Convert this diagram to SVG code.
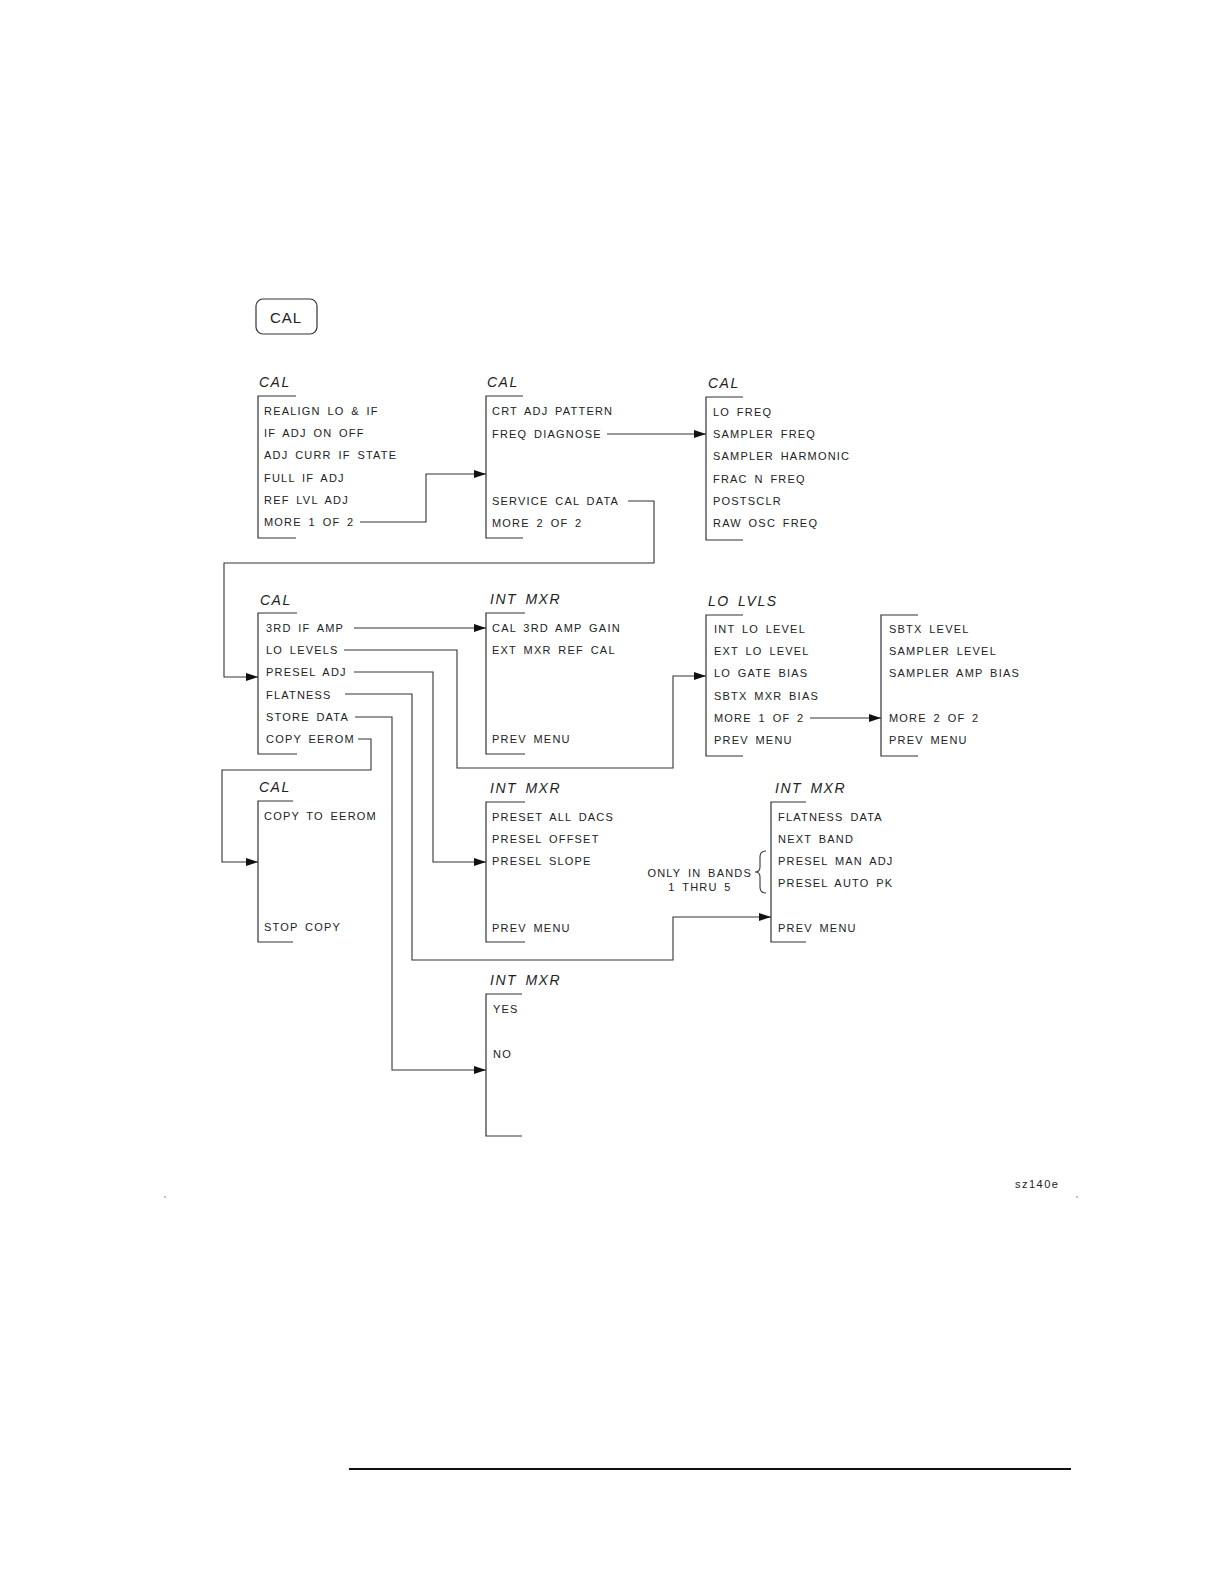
<svg xmlns="http://www.w3.org/2000/svg" width="1224" height="1582" viewBox="0 0 1224 1582">
<defs>
<style>
.t{font-family:"Liberation Sans",Arial,sans-serif;font-size:11px;letter-spacing:1.2px;word-spacing:2.5px;fill:#222}
.h{font-family:"Liberation Sans",Arial,sans-serif;font-size:14px;font-style:italic;letter-spacing:1.5px;word-spacing:3px;fill:#222}
.b{fill:none;stroke:#333;stroke-width:1.2}
.c{fill:none;stroke:#333;stroke-width:1.1}
</style>
<marker id="a" viewBox="0 0 12 8" refX="12" refY="4" markerWidth="12" markerHeight="8" markerUnits="userSpaceOnUse" orient="auto"><path d="M0,0L12,4L0,8z" fill="#111"/></marker>
</defs>
<rect width="1224" height="1582" fill="#fff"/>
<g id="calkey"><rect x="256" y="299" width="61" height="35" rx="7" class="b"/><text x="286" y="323" text-anchor="middle" font-family="Liberation Sans,Arial,sans-serif" font-size="15" letter-spacing="1" fill="#222">CAL</text></g>

<g id="m1"><text class="h" x="259" y="387">CAL</text><path class="b" d="M296,396H258V538H296"/>
<text class="t" x="264" y="415">REALIGN LO &amp; IF</text><text class="t" x="264" y="437">IF ADJ ON OFF</text><text class="t" x="264" y="459">ADJ CURR IF STATE</text><text class="t" x="264" y="482">FULL IF ADJ</text><text class="t" x="264" y="504">REF LVL ADJ</text><text class="t" x="264" y="526">MORE 1 OF 2</text></g>
<g id="m2"><text class="h" x="487" y="387">CAL</text><path class="b" d="M523,396H486V538H523"/>
<text class="t" x="492" y="415">CRT ADJ PATTERN</text><text class="t" x="492" y="438">FREQ DIAGNOSE</text><text class="t" x="492" y="505">SERVICE CAL DATA</text><text class="t" x="492" y="527">MORE 2 OF 2</text></g>
<g id="m3"><text class="h" x="708" y="388">CAL</text><path class="b" d="M743,397H706V540H743"/>
<text class="t" x="713" y="416">LO FREQ</text><text class="t" x="713" y="438">SAMPLER FREQ</text><text class="t" x="713" y="460">SAMPLER HARMONIC</text><text class="t" x="713" y="483">FRAC N FREQ</text><text class="t" x="713" y="505">POSTSCLR</text><text class="t" x="713" y="527">RAW OSC FREQ</text></g>

<g id="m4"><text class="h" x="260" y="605">CAL</text><path class="b" d="M297,613H258V754H297"/>
<text class="t" x="266" y="632">3RD IF AMP</text><text class="t" x="266" y="654">LO LEVELS</text><text class="t" x="266" y="676">PRESEL ADJ</text><text class="t" x="266" y="699">FLATNESS</text><text class="t" x="266" y="721">STORE DATA</text><text class="t" x="266" y="743">COPY EEROM</text></g>
<g id="m5"><text class="h" x="490" y="604">INT MXR</text><path class="b" d="M525,613H486V754H525"/>
<text class="t" x="492" y="632">CAL 3RD AMP GAIN</text><text class="t" x="492" y="654">EXT MXR REF CAL</text><text class="t" x="492" y="743">PREV MENU</text></g>
<g id="m6"><text class="h" x="708" y="606">LO LVLS</text><path class="b" d="M743,615H706V756H743"/>
<text class="t" x="714" y="633">INT LO LEVEL</text><text class="t" x="714" y="655">EXT LO LEVEL</text><text class="t" x="714" y="677">LO GATE BIAS</text><text class="t" x="714" y="700">SBTX MXR BIAS</text><text class="t" x="714" y="722">MORE 1 OF 2</text><text class="t" x="714" y="744">PREV MENU</text></g>
<g id="m7"><path class="b" d="M918,615H881V756H918"/>
<text class="t" x="889" y="633">SBTX LEVEL</text><text class="t" x="889" y="655">SAMPLER LEVEL</text><text class="t" x="889" y="677">SAMPLER AMP BIAS</text><text class="t" x="889" y="722">MORE 2 OF 2</text><text class="t" x="889" y="744">PREV MENU</text></g>

<g id="m8"><text class="h" x="259" y="792">CAL</text><path class="b" d="M293,801H258V942H293"/>
<text class="t" x="264" y="820">COPY TO EEROM</text><text class="t" x="264" y="931">STOP COPY</text></g>
<g id="m9"><text class="h" x="490" y="793">INT MXR</text><path class="b" d="M525,802H486V942H525"/>
<text class="t" x="492" y="821">PRESET ALL DACS</text><text class="t" x="492" y="843">PRESEL OFFSET</text><text class="t" x="492" y="865">PRESEL SLOPE</text><text class="t" x="492" y="932">PREV MENU</text></g>
<g id="m10"><text class="h" x="775" y="793">INT MXR</text><path class="b" d="M806,802H771V942H806"/>
<text class="t" x="778" y="821">FLATNESS DATA</text><text class="t" x="778" y="843">NEXT BAND</text><text class="t" x="778" y="865">PRESEL MAN ADJ</text><text class="t" x="778" y="887">PRESEL AUTO PK</text><text class="t" x="778" y="932">PREV MENU</text>
<path class="c" d="M766,851Q760,851 760,857V867Q760,872 755,872Q760,872 760,877V887Q760,893 766,893"/>
<text class="t" x="752" y="877" text-anchor="end">ONLY IN BANDS</text><text class="t" x="700" y="891" text-anchor="middle">1 THRU 5</text></g>
<g id="m11"><text class="h" x="490" y="985">INT MXR</text><path class="b" d="M522,994H486V1136H522"/>
<text class="t" x="493" y="1013">YES</text><text class="t" x="493" y="1058">NO</text></g>

<g id="connectors">
<path class="c" d="M360,522H426V474H486" marker-end="url(#a)"/>
<path class="c" d="M607,434H706" marker-end="url(#a)"/>
<path class="c" d="M628,501H654V563H224V677H258" marker-end="url(#a)"/>
<path class="c" d="M354,628H486" marker-end="url(#a)"/>
<path class="c" d="M344,650H457V768H673V676H706" marker-end="url(#a)"/>
<path class="c" d="M810,718H881" marker-end="url(#a)"/>
<path class="c" d="M354,672H433V862H486" marker-end="url(#a)"/>
<path class="c" d="M345,694H412V960H673V917H771" marker-end="url(#a)"/>
<path class="c" d="M355,717H392V1070H486" marker-end="url(#a)"/>
<path class="c" d="M358,739H371V770H222V862H258" marker-end="url(#a)"/>
</g>
<text x="1015" y="1188" font-family="Liberation Sans,Arial,sans-serif" font-size="11" letter-spacing="1.5" fill="#222">sz140e</text>
<circle cx="165" cy="1197" r="0.7" fill="#555"/><circle cx="1077" cy="1197" r="0.7" fill="#555"/>
<line x1="349" y1="1469" x2="1071" y2="1469" stroke="#111" stroke-width="2"/>
</svg>
